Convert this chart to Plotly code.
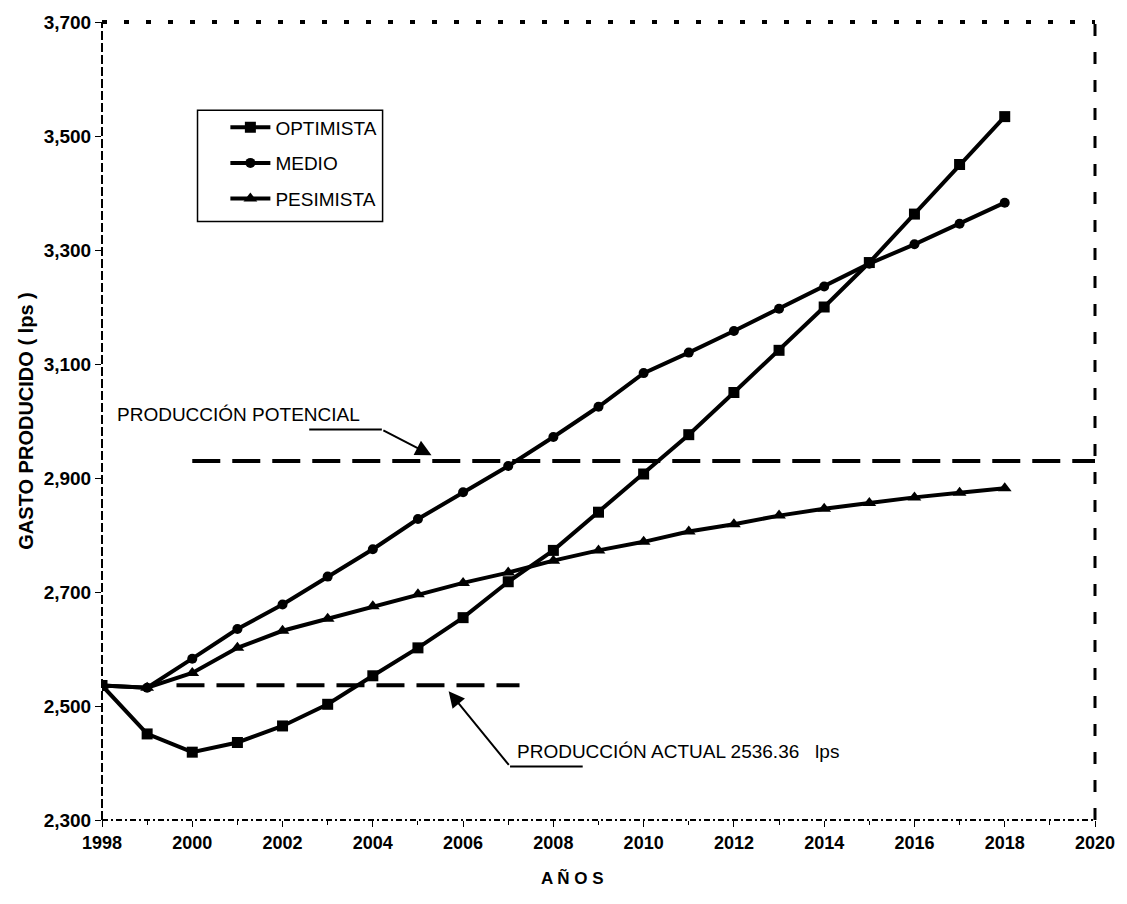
import plotly.graph_objects as go

# Projected production scenarios (lps) by year
years = list(range(1998, 2019))
optimista = [2536, 2451, 2419, 2436, 2465, 2503, 2553, 2602, 2655, 2718, 2773,
             2840, 2907, 2976, 3050, 3124, 3200, 3278, 3363, 3450, 3534]
medio = [2536, 2532, 2583, 2635, 2678, 2727, 2775, 2828, 2875, 2921, 2972,
         3025, 3084, 3120, 3158, 3197, 3236, 3276, 3310, 3346, 3383]
pesimista = [2536, 2532, 2558, 2602, 2632, 2653, 2675, 2696, 2716, 2734, 2755,
             2773, 2788, 2806, 2819, 2834, 2846, 2856, 2866, 2874, 2882]

# Reference production levels
potencial_years = [2000, 2020]
potencial_value = 2930
actual_years = [1999.65, 2007.25]
actual_value = 2536.36

x_ticks = list(range(1998, 2021, 2))
y_ticks = list(range(2300, 3701, 200))

SANS = "Liberation Sans, Arial, sans-serif"

# Plot-area geometry in pixels (used to place paper-referenced items)
L, R, T, B = 102, 27, 16, 84
PW, PH = 1127 - L - R, 904 - T - B


def px(xp):
    return (xp - L) / PW


def py(yp):
    return 1 - (yp - T) / PH


fig = go.Figure()

series = [
    ("OPTIMISTA", optimista, "square", 11),
    ("MEDIO", medio, "circle", 10),
    ("PESIMISTA", pesimista, "triangle-up", 12),
]
for name, vals, sym, size in series:
    fig.add_trace(go.Scatter(
        x=years, y=vals, name=name, mode="lines+markers",
        legendgroup=name,
        line=dict(color="black", width=4),
        marker=dict(symbol=sym, size=size, color="black"),
    ))

fig.add_trace(go.Scatter(
    x=potencial_years, y=[potencial_value] * 2, mode="lines",
    line=dict(color="black", width=4, dash="28px,12px"),
    showlegend=False, hoverinfo="skip",
))
fig.add_trace(go.Scatter(
    x=actual_years, y=[actual_value] * 2, mode="lines",
    line=dict(color="black", width=4, dash="28px,12px"),
    showlegend=False, hoverinfo="skip",
))

# Frame: dashed left axis, dotted top, dashed right, dash-dot bottom
frame = [
    dict(x0=0, x1=0, y0=0, y1=1, dash="9px,3px", width=2),
    dict(x0=0, x1=1, y0=1, y1=1, dash="5px,17px", width=4),
    dict(x0=1, x1=1, y0=0, y1=1, dash="12px,16px", width=3),
    dict(x0=0, x1=1, y0=0, y1=0, dash="6px,3px,2px,3px", width=2),
]
for f in frame:
    fig.add_shape(type="line", xref="paper", yref="paper",
                  x0=f["x0"], x1=f["x1"], y0=f["y0"], y1=f["y1"],
                  line=dict(color="black", width=f["width"], dash=f["dash"]))

# Legend box
fig.add_shape(type="rect", xref="paper", yref="paper",
              x0=px(198), x1=px(384), y0=py(217), y1=py(105),
              line=dict(color="black", width=1.5), fillcolor="rgba(0,0,0,0)")

# Leader lines for the annotations
fig.add_shape(type="line", x0=2002.59, x1=2004.2, y0=2985, y1=2985,
              line=dict(color="black", width=2))
fig.add_shape(type="line", x0=2007.04, x1=2008.65, y0=2394, y1=2394,
              line=dict(color="black", width=2))

fig.add_annotation(x=2005.3, y=2940, ax=2004.2, ay=2985, xref="x", yref="y",
                   axref="x", ayref="y", text="", showarrow=True,
                   arrowhead=2, arrowsize=1.6, arrowwidth=2, arrowcolor="black")
fig.add_annotation(x=2005.68, y=2526, ax=2007.04, ay=2394, xref="x", yref="y",
                   axref="x", ayref="y", text="", showarrow=True,
                   arrowhead=2, arrowsize=1.6, arrowwidth=2, arrowcolor="black")

fig.add_annotation(x=1998.29, y=3012, xref="x", yref="y", xanchor="left",
                   yanchor="middle", text="PRODUCCIÓN POTENCIAL", showarrow=False,
                   font=dict(family=SANS, size=19, color="black"))
fig.add_annotation(x=2007.15, y=2421, xref="x", yref="y", xanchor="left",
                   yanchor="middle", text="PRODUCCIÓN ACTUAL 2536.36&nbsp;&nbsp;&nbsp;lps",
                   showarrow=False,
                   font=dict(family=SANS, size=19, color="black"))

fig.add_annotation(xref="paper", yref="paper", x=px(575), y=py(878),
                   xanchor="center", yanchor="middle", text="A Ñ O S",
                   showarrow=False,
                   font=dict(family=SANS, size=17, color="black", weight="bold"))

fig.update_layout(
    width=1127, height=904,
    margin=dict(l=L, r=R, t=T, b=B),
    paper_bgcolor="white", plot_bgcolor="white",
    showlegend=True,
    legend=dict(
        x=px(226), y=py(103), xanchor="left", yanchor="top",
        borderwidth=0, bgcolor="rgba(0,0,0,0)",
        font=dict(family=SANS, size=19, color="black"),
        tracegroupgap=8, itemwidth=40,
    ),
    xaxis=dict(
        range=[1998, 2020], tickvals=x_ticks, showgrid=False, zeroline=False,
        showline=False, ticks="outside", ticklen=6, tickwidth=1, tickcolor="black",
        minor=dict(dtick=1, tick0=1998, ticks="outside", ticklen=4, tickcolor="black"),
        tickfont=dict(family=SANS, size=18, color="black", weight="bold"),
    ),
    yaxis=dict(
        range=[2300, 3700], tickvals=y_ticks, tickformat=",d", showgrid=False,
        zeroline=False, showline=False, ticks="outside", ticklen=6, tickwidth=1,
        tickcolor="black",
        tickfont=dict(family=SANS, size=19, color="black", weight="bold"),
        title=dict(text="GASTO PRODUCIDO ( lps )", standoff=4,
                   font=dict(family=SANS, size=20, color="black", weight="bold")),
    ),
)

fig.write_html("out.html")
